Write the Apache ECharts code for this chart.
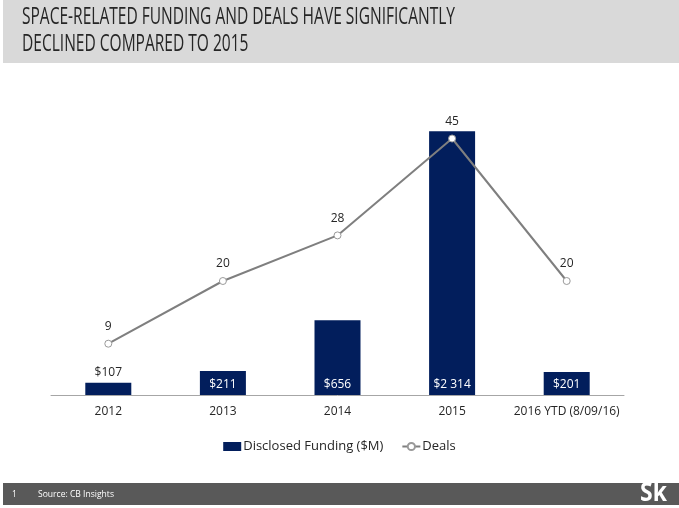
<!DOCTYPE html>
<html>
<head>
<meta charset="utf-8">
<script src="https://cdn.jsdelivr.net/npm/echarts@6/dist/echarts.min.js"></script>
<style>
html,body{margin:0;padding:0;background:#fff;}
#c{width:679px;height:508px;}
</style>
</head>
<body>
<div id="c"></div>
<script>
var categories = ['2012', '2013', '2014', '2015', '2016 YTD (8/09/16)'];
var fundingValues = [107, 211, 656, 2314, 201];
var dealValues = [9, 20, 28, 45, 20];
var titleLines = ['SPACE-RELATED FUNDING AND DEALS HAVE SIGNIFICANTLY', 'DECLINED COMPARED TO 2015'];
var seriesNames = ['Disclosed Funding ($M)', 'Deals'];

function measure(text, font) {
  var cv = document.createElement('canvas').getContext('2d');
  cv.font = font;
  return cv.measureText(text).width;
}
var titleFont = '23px "Open Sans", sans-serif';
var titleScale = 433 / measure(titleLines[0], titleFont);
var footFont = '9px "Open Sans", sans-serif';
var footScale = 76 / measure('Source: CB Insights', footFont);

function fmtMoney(v) {
  return '$' + String(v).replace(/\B(?=(\d{3})+(?!\d))/g, ' ');
}

var barData = fundingValues.map(function (v, i) {
  var item = { value: v };
  if (i === 0) {
    item.label = { position: 'top', color: '#262626', distance: 4 };
  }
  return item;
});

var chart = echarts.init(document.getElementById('c'), null, { renderer: 'canvas' });
chart.setOption({
  backgroundColor: '#ffffff',
  animation: false,
  textStyle: { fontFamily: '"Open Sans", sans-serif' },
  grid: { left: 51, right: 55, top: 110, bottom: 113 },
  legend: {
    data: [
      { name: seriesNames[0], icon: 'rect' },
      { name: seriesNames[1] }
    ],
    bottom: 50,
    left: 'center',
    itemGap: 18,
    itemWidth: 18,
    itemHeight: 9,
    textStyle: { color: '#262626', fontSize: 13, fontFamily: '"Open Sans", sans-serif', padding: [0, 0, 0, -3] }
  },
  xAxis: {
    type: 'category',
    data: categories,
    axisLine: { lineStyle: { color: '#a6a6a6', width: 1 } },
    axisTick: { show: false },
    axisLabel: { color: '#262626', fontSize: 12, margin: 11, interval: 0 }
  },
  yAxis: [
    { type: 'value', min: 0, max: 2500, show: false, splitLine: { show: false } },
    { type: 'value', min: 0, max: 50, show: false, splitLine: { show: false } }
  ],
  series: [
    {
      name: seriesNames[0],
      type: 'bar',
      data: barData,
      barWidth: 46,
      itemStyle: { color: '#021e5c' },
      label: {
        show: true,
        position: 'insideBottom',
        distance: 4,
        color: '#ffffff',
        fontSize: 12,
        formatter: function (p) { return fmtMoney(p.value); }
      },
      z: 1
    },
    {
      name: seriesNames[1],
      type: 'line',
      yAxisIndex: 1,
      data: dealValues,
      symbol: 'circle',
      symbolSize: 7,
      lineStyle: { color: '#7f7f7f', width: 2 },
      itemStyle: { color: '#ffffff', borderColor: '#9a9a9a', borderWidth: 1 },
      label: { show: true, position: 'top', distance: 7, color: '#262626', fontSize: 12 },
      z: 3
    }
  ],
  graphic: [
    { type: 'rect', left: 3, top: 0, shape: { width: 676, height: 63 }, style: { fill: '#d9d9d9' }, z: -1 },
    { type: 'text', x: 22, y: 29, scaleX: titleScale, style: { text: titleLines[0], font: titleFont, fill: '#262626', textVerticalAlign: 'bottom' } },
    { type: 'text', x: 22, y: 56, scaleX: titleScale, style: { text: titleLines[1], font: titleFont, fill: '#262626', textVerticalAlign: 'bottom' } },
    { type: 'rect', left: 3, top: 483, shape: { width: 676, height: 22 }, style: { fill: '#595959' } },
    { type: 'text', x: 12, y: 494, scaleX: footScale, style: { text: '1', font: footFont, fill: '#ffffff', textVerticalAlign: 'middle' } },
    { type: 'text', x: 38, y: 494, scaleX: footScale, style: { text: 'Source: CB Insights', font: footFont, fill: '#ffffff', textVerticalAlign: 'middle' } },
    { type: 'text', x: 640, y: 507, scaleX: 0.85, style: { text: 'Sk', font: 'bold 27px "Open Sans", sans-serif', fill: '#ffffff', textVerticalAlign: 'bottom' } }
  ]
});
</script>
</body>
</html>
